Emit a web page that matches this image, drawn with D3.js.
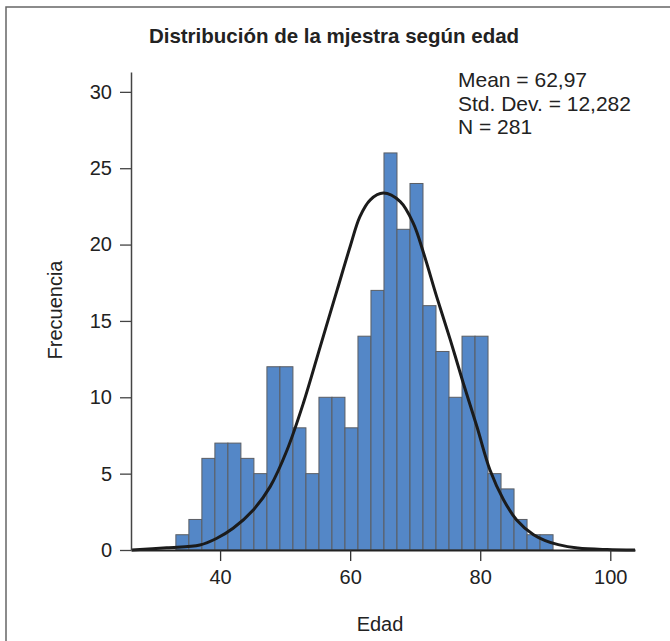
<!DOCTYPE html>
<html>
<head>
<meta charset="utf-8">
<script src="https://cdn.jsdelivr.net/npm/d3@7.9.0/dist/d3.min.js"></script>
<style>
  html, body { margin: 0; padding: 0; background: #fff; }
  svg { display: block; font-family: "Liberation Sans", Arial, Helvetica, sans-serif; }
</style>
</head>
<body>
<svg id="chart" width="670" height="641"></svg>
<script>
/* ------------------------------- Data ------------------------------- */
const binLower = [33.2, 35.2, 37.2, 39.2, 41.2, 43.2, 45.2, 47.2, 49.2, 51.2,
                  53.2, 55.2, 57.2, 59.2, 61.2, 63.2, 65.2, 67.2, 69.2, 71.2,
                  73.2, 75.2, 77.2, 79.2, 81.2, 83.2, 85.2, 87.2, 89.2];
const binWidth = 2;
const counts = [1, 2, 6, 7, 7, 6, 5, 12, 12, 8,
                5, 10, 10, 8, 14, 17, 26, 21, 24, 16,
                13, 10, 14, 14, 5, 4, 2, 1, 1];

// fitted curve (age, frequency)
const curveAge  = [26.4, 31.8, 36.9, 39.5, 42.0, 45.1, 47.7, 50.3, 52.8, 55.4, 58.0, 60.0, 61.5, 63.1, 65.1,
                   67.7, 69.7, 71.3, 73.3, 75.4, 77.4, 79.5, 81.5, 83.6, 85.6, 88.2, 90.0, 92.0, 95.0, 99.5, 103.8];
const curveFreq = [0, 0.15, 0.33, 0.77, 1.42, 2.62, 4.15, 6.55, 9.61, 13.32, 17.03, 19.87, 21.83, 22.93, 23.37,
                   22.81, 21.4, 19.43, 16.59, 13.76, 10.92, 8.07, 5.24, 3.28, 1.97, 1.0, 0.62, 0.35, 0.13, 0.03, 0];

const xTicks = [40, 60, 80, 100];
const yTicks = [0, 5, 10, 15, 20, 25, 30];

const title = "Distribución de la mjestra según edad";
const stats = ["Mean = 62,97", "Std. Dev. = 12,282", "N = 281"];

/* ------------------------------ Scales ------------------------------ */
const svg = d3.select("#chart");
const x = d3.scaleLinear().domain([26.3, 103.8]).range([131, 635]);
const y = d3.scaleLinear().domain([0, 31.3]).range([550, 72]);

// outer frame (top + left edges visible)
svg.append("path")
  .attr("d", "M6,641 V7 H670")
  .attr("fill", "none")
  .attr("stroke", "#666")
  .attr("stroke-width", 1.5);

/* ------------------------------- Bars ------------------------------- */
svg.append("g")
  .selectAll("rect")
  .data(counts)
  .join("rect")
  .attr("x", (d, i) => x(binLower[i]))
  .attr("y", d => y(d))
  .attr("width", (d, i) => x(binLower[i] + binWidth) - x(binLower[i]))
  .attr("height", d => y(0) - y(d))
  .attr("fill", "#5487c7")
  .attr("stroke", "#5b5e63")
  .attr("stroke-width", 1);

/* ------------------------------- Curve ------------------------------ */
const line = d3.line()
  .x(d => x(d[0]))
  .y(d => y(d[1]))
  .curve(d3.curveCatmullRom.alpha(0.5));

svg.append("path")
  .datum(curveAge.map((a, i) => [a, curveFreq[i]]))
  .attr("d", line)
  .attr("fill", "none")
  .attr("stroke", "#1b1b1b")
  .attr("stroke-width", 3);

/* ------------------------------- Axes ------------------------------- */
const xAxis = svg.append("g")
  .attr("transform", `translate(0,${y(0)})`)
  .call(d3.axisBottom(x).tickValues(xTicks).tickSize(11).tickPadding(9).tickSizeOuter(0));
xAxis.select(".domain").attr("stroke", "#222").attr("stroke-width", 2);
xAxis.selectAll(".tick line").attr("stroke", "#333").attr("stroke-width", 1.3);

const yAxis = svg.append("g")
  .attr("transform", `translate(${x.range()[0]},0)`)
  .call(d3.axisLeft(y).tickValues(yTicks).tickSize(11).tickPadding(8).tickSizeOuter(0));
yAxis.select(".domain").attr("stroke", "#444").attr("stroke-width", 1.5);
yAxis.selectAll(".tick line").attr("stroke", "#444").attr("stroke-width", 1.3);

svg.selectAll(".tick text")
  .attr("font-size", 20)
  .attr("font-family", "'Liberation Sans', Arial, sans-serif")
  .attr("fill", "#222");

/* ------------------------------- Text ------------------------------- */
svg.append("text")
  .attr("x", 334).attr("y", 43)
  .attr("text-anchor", "middle")
  .attr("font-size", 20.5)
  .attr("font-weight", "bold")
  .attr("fill", "#222")
  .text(title);

svg.append("g")
  .selectAll("text")
  .data(stats)
  .join("text")
  .attr("x", 458)
  .attr("y", (d, i) => 87 + i * 23.5)
  .attr("font-size", 21)
  .attr("fill", "#222")
  .text(d => d);

svg.append("text")
  .attr("x", 380).attr("y", 631)
  .attr("text-anchor", "middle")
  .attr("font-size", 20)
  .attr("fill", "#222")
  .text("Edad");

svg.append("text")
  .attr("transform", "translate(62,310) rotate(-90)")
  .attr("text-anchor", "middle")
  .attr("font-size", 20)
  .attr("fill", "#222")
  .text("Frecuencia");
</script>
</body>
</html>
